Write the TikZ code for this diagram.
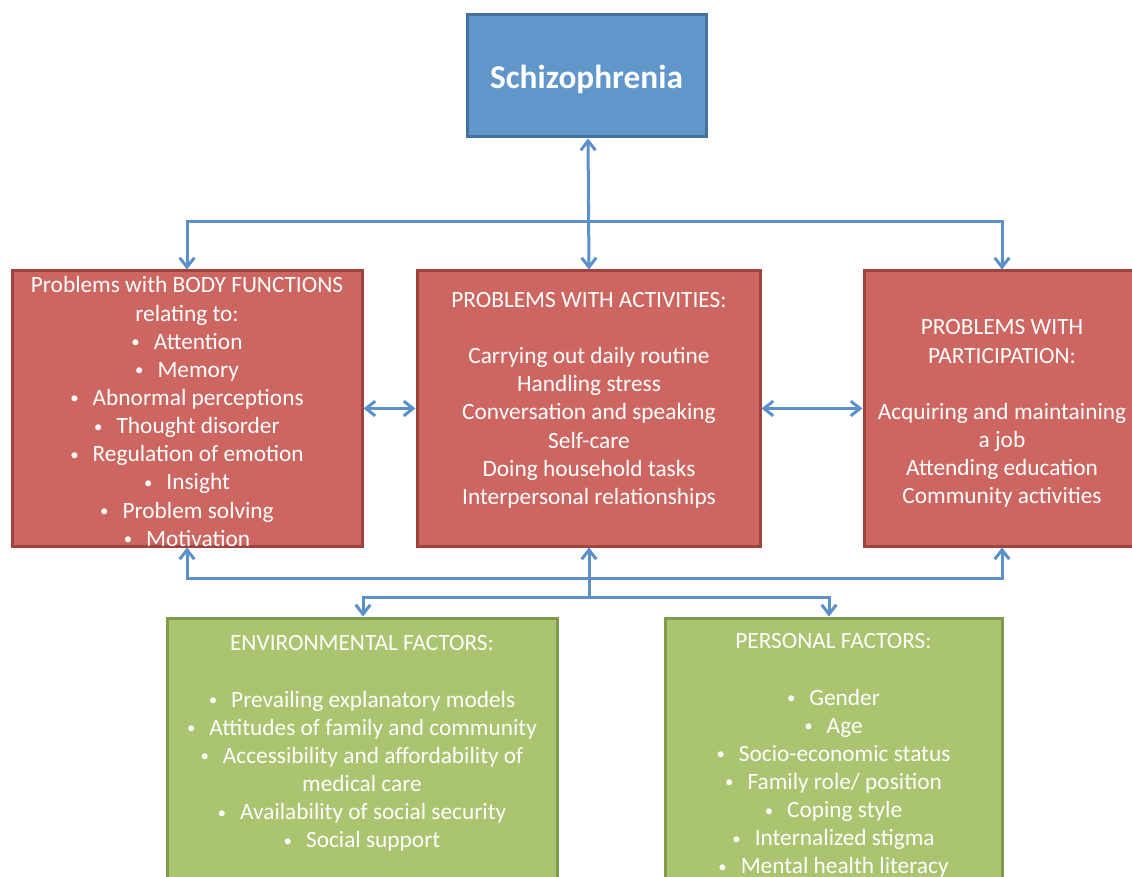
\documentclass[tikz,border=0pt]{standalone}
\usepackage{fontspec}
\setmainfont{Carlito}
\usetikzlibrary{arrows.meta}
\definecolor{bluefill}{HTML}{6096CA}
\definecolor{blueline}{HTML}{44719F}
\definecolor{redfill}{HTML}{CD6661}
\definecolor{redline}{HTML}{A0423E}
\definecolor{greenfill}{HTML}{AAC46F}
\definecolor{greenline}{HTML}{809B4A}
\definecolor{arrowblue}{HTML}{5B90CA}
\newcommand{\bul}{\raisebox{0.07em}{\scalebox{0.72}{•}}\hspace{0.6em}}
\begin{document}
\begin{tikzpicture}[x=0.75pt,y=-0.75pt,
  box/.style={draw, line width=2.25pt, inner sep=0pt},
  bluebox/.style={box, fill=bluefill, draw=blueline},
  redbox/.style={box, fill=redfill, draw=redline},
  greenbox/.style={box, fill=greenfill, draw=greenline},
  txt/.style={text=white, align=center, inner sep=0pt, anchor=north,
    font=\fontsize{17.5}{21.1}\selectfont},
  arr/.style={draw=arrowblue, line width=2.25pt},
  >={Straight Barb[length=7pt,width=11pt]}]
\useasboundingbox (0,0) rectangle (1132,877);
\fill[white] (0,0) rectangle (1132,877);
\clip (0,0) rectangle (1132,877);

% boxes
\node[bluebox, minimum width=179.25pt, minimum height=91.5pt] (top) at (586.5,76) {};
\node[text=white, inner sep=0pt, font=\fontsize{25}{30}\selectfont\bfseries]
  (toptxt) at (586.5,79) {Schizophrenia};
\node[redbox, minimum width=262.5pt, minimum height=206.25pt] (body) at (187,408.5) {};
\node[redbox, minimum width=257.25pt, minimum height=206.25pt] (act) at (588.5,408.5) {};
\node[redbox, minimum width=207pt, minimum height=206.25pt] (part) at (1002,408.5) {};
\node[greenbox, minimum width=292.5pt, minimum height=211.5pt] (env) at (362,759) {};
\node[greenbox, minimum width=252.75pt, minimum height=211.5pt] (pers) at (833.5,759) {};

% texts
\node[txt] (bodytxt) at (187,276.5) {Problems with BODY FUNCTIONS\\
relating to:\\
\bul Attention\\
\bul Memory\\
\bul Abnormal perceptions\\
\bul Thought disorder\\
\bul Regulation of emotion\\
\bul Insight\\
\bul Problem solving\\
\bul Motivation};
\node[txt] (acttxt) at (589,292) {PROBLEMS WITH ACTIVITIES:\\[21.1pt]
Carrying out daily routine\\
Handling stress\\
Conversation and speaking\\
Self-care\\
Doing household tasks\\
Interpersonal relationships};
\node[txt] (parttxt) at (1002,319.5) {PROBLEMS WITH\\
PARTICIPATION:\\[21.1pt]
Acquiring and maintaining\\
a job\\
Attending education\\
Community activities};
\node[txt] (envtxt) at (362,635.5) {ENVIRONMENTAL FACTORS:\\[21.1pt]
\bul Prevailing explanatory models\\
\bul Attitudes of family and community\\
\bul Accessibility and affordability of\\
medical care\\
\bul Availability of social security\\
\bul Social support};
\node[txt] (perstxt) at (833.5,633.5) {PERSONAL FACTORS:\\[21.1pt]
\bul Gender\\
\bul Age\\
\bul Socio-economic status\\
\bul Family role/ position\\
\bul Coping style\\
\bul Internalized stigma\\
\bul Mental health literacy};

% connectors
\coordinate (hubtop) at (589,222);
\coordinate (hubbot) at (589,578);
\coordinate (hublow) at (589,597);
\draw[arr,<->] (top.south -| 588,0) -- (act.north -| 589,0);
\draw[arr,->] (hubtop) -| (body.north);
\draw[arr,->] (hubtop) -| (part.north);
\draw[arr,<->] (body.east) -- (act.west);
\draw[arr,<->] (act.east) -- (part.west);
\draw[arr,<-] (body.south) |- (hubbot);
\draw[arr,<-] (part.south) |- (hubbot);
\draw[arr,<-] (act.south -| hublow) -- (hublow);
\draw[arr,->] (hublow) -| (env.north -| 363,0);
\draw[arr,->] (hublow) -| (pers.north -| 829,0);
\end{tikzpicture}
\end{document}
